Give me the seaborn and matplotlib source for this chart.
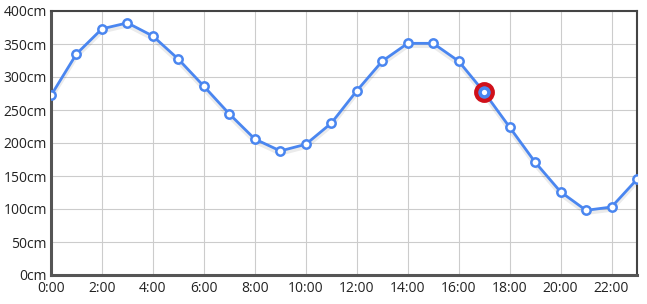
import matplotlib
matplotlib.use("Agg")
import matplotlib.pyplot as plt
import seaborn as sns
import pandas as pd

hours = list(range(24))
levels = [272, 335, 373, 382, 362, 327, 286, 244, 206, 188, 198, 230,
          279, 324, 351, 351, 324, 277, 224, 171, 126, 98, 103, 145]
highlight_hour = 17
x_ticks = [0, 2, 4, 6, 8, 10, 12, 14, 16, 18, 20, 22]
x_tick_labels = [f"{h}:00" for h in x_ticks]
y_ticks = [0, 50, 100, 150, 200, 250, 300, 350, 400]
y_tick_labels = [f"{v}cm" for v in y_ticks]

sns.set_theme(style="white")
plt.rcParams['font.family'] = ['Open Sans', 'DejaVu Sans']

df = pd.DataFrame({"hour": hours, "level": levels})

fig = plt.figure(figsize=(6.47, 3.04), dpi=100)
ax = fig.add_axes([51/647, 1 - 275/304, (637-51)/647, (275-11)/304])

# faint shadow
ax.plot(df["hour"], df["level"] - 4, color="#000000", alpha=0.08, lw=3, zorder=1)
sns.lineplot(data=df, x="hour", y="level", ax=ax, color="#4a86f0", lw=2,
             marker="o", markersize=6, markerfacecolor="white",
             markeredgecolor="#4a86f0", markeredgewidth=1.8, zorder=3)
hv = levels[hours.index(highlight_hour)]
ax.plot([highlight_hour], [hv], marker="o", markersize=12, markerfacecolor="#4a86f0",
        markeredgecolor="#d0101a", markeredgewidth=3, zorder=4, ls="none")
ax.plot([highlight_hour], [hv], marker="o", markersize=5, markerfacecolor="white",
        markeredgecolor="#4a86f0", markeredgewidth=1.2, zorder=5, ls="none")

ax.set_xlim(0, 23)
ax.set_ylim(0, 400)
ax.set_xticks(x_ticks)
ax.set_xticklabels(x_tick_labels)
ax.set_yticks(y_ticks)
ax.set_yticklabels(y_tick_labels)
ax.set_xlabel("")
ax.set_ylabel("")
ax.grid(True, color="#cccccc", lw=0.8)
ax.tick_params(axis="both", length=0, labelsize=10, colors="#222222")
ax.tick_params(axis="x", pad=4)
ax.tick_params(axis="y", pad=3)
for s in ["left", "bottom"]:
    ax.spines[s].set_color("#555555")
    ax.spines[s].set_linewidth(2.2)
for s in ["top", "right"]:
    ax.spines[s].set_color("#444444")
    ax.spines[s].set_linewidth(1.5)
    ax.spines[s].set_visible(True)

fig.savefig("out.png", dpi=100)
